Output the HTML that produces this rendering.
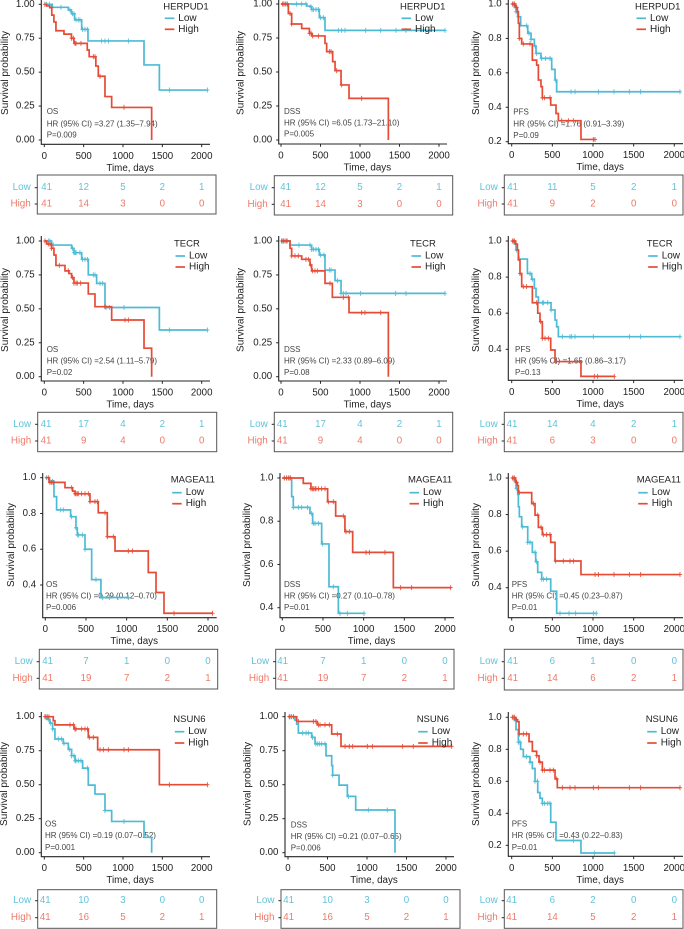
<!DOCTYPE html>
<html lang="en">
<head>
<meta charset="utf-8">
<title>Kaplan-Meier survival curves</title>
<style>
html,body{margin:0;padding:0;background:#fff;width:684px;height:929px;overflow:hidden}
svg{display:block;filter:blur(0.3px)}
text{font-family:"Liberation Sans",sans-serif}
</style>
</head>
<body>
<svg id="figure" xmlns="http://www.w3.org/2000/svg" width="684" height="929" viewBox="0 0 684 929"></svg>
<script>
// ---- Tick labels and shared labels ----
const xTickDays = [0, 500, 1000, 1500, 2000];
const yTicksFull = [0, 0.25, 0.5, 0.75, 1];
const yTicks2 = [0.2, 0.4, 0.6, 0.8, 1];
const yTicks4 = [0.4, 0.6, 0.8, 1];
const seriesNames = ['Low', 'High'];

// ---- Panel 1: HERPUD1 OS ----
const p01LowTimes = [0, 100, 305, 345, 385, 475, 555, 1267, 1462];
const p01LowSurv = [1, 0.978, 0.958, 0.93, 0.885, 0.815, 0.73, 0.553, 0.368];
const p01LowCensor = [30, 64, 212, 326, 360, 377, 403, 432, 453, 487, 517, 547, 729, 771, 814, 1068, 1589, 2072];
const p01HighTimes = [0, 30, 70, 95, 122, 148, 250, 345, 377, 546, 570, 655, 686, 771, 856, 1364];
const p01HighSurv = [1, 0.988, 0.975, 0.92, 0.87, 0.805, 0.78, 0.75, 0.712, 0.663, 0.614, 0.545, 0.47, 0.32, 0.24, 0];
const p01HighCensor = [8, 93, 347, 369, 390, 403, 466, 623, 644, 708, 1013];
const p01LowRisk = [41, 12, 5, 2, 1];
const p01HighRisk = [41, 14, 3, 0, 0];

// ---- Panel 2: HERPUD1 DSS ----
const p02LowTimes = [0, 325, 367, 388, 485, 557];
const p02LowSurv = [1, 0.985, 0.98, 0.96, 0.9, 0.806];
const p02LowCensor = [30, 63, 198, 262, 316, 380, 392, 409, 443, 473, 502, 536, 726, 768, 810, 1072, 1262, 1456, 1582, 2076];
const p02HighTimes = [0, 93, 135, 262, 359, 388, 557, 578, 654, 684, 760, 861, 1359];
const p02HighSurv = [1, 0.93, 0.853, 0.82, 0.785, 0.765, 0.71, 0.65, 0.576, 0.51, 0.405, 0.306, 0];
const p02HighCensor = [21, 51, 80, 114, 135, 359, 380, 401, 473, 612, 633, 705, 768, 1021];
const p02LowRisk = [41, 12, 5, 2, 1];
const p02HighRisk = [41, 14, 3, 0, 0];

// ---- Panel 3: HERPUD1 PFS ----
const p03LowTimes = [0, 33, 53, 74, 110, 197, 238, 279, 299, 360, 492, 533, 553];
const p03LowSurv = [1, 0.98, 0.955, 0.926, 0.874, 0.83, 0.795, 0.756, 0.713, 0.684, 0.62, 0.558, 0.49];
const p03LowCensor = [20, 53, 82, 184, 213, 238, 287, 307, 369, 418, 471, 541, 730, 779, 1066, 1258, 1447, 1586, 2070];
const p03HighTimes = [0, 49, 70, 82, 94, 123, 254, 307, 328, 360, 377, 480, 545, 574, 852];
const p03HighSurv = [1, 0.98, 0.955, 0.888, 0.8, 0.768, 0.674, 0.645, 0.558, 0.52, 0.455, 0.413, 0.364, 0.322, 0.213];
const p03HighCensor = [8, 33, 61, 94, 143, 225, 377, 402, 471, 615, 697, 758, 1004, 1025];
const p03LowRisk = [41, 11, 5, 2, 1];
const p03HighRisk = [41, 9, 2, 0, 0];

// ---- Panel 4: TECR OS ----
const p04LowTimes = [0, 93, 347, 377, 475, 559, 665, 771, 1462];
const p04LowSurv = [1, 0.97, 0.946, 0.914, 0.865, 0.75, 0.688, 0.51, 0.344];
const p04LowCensor = [51, 72, 93, 114, 360, 377, 390, 403, 453, 487, 517, 547, 623, 644, 708, 742, 784, 826, 1013, 1589, 2072];
const p04HighTimes = [0, 30, 93, 123, 148, 263, 314, 347, 377, 559, 644, 856, 1267, 1364];
const p04HighSurv = [1, 0.978, 0.946, 0.897, 0.82, 0.78, 0.76, 0.73, 0.69, 0.61, 0.516, 0.418, 0.21, 0];
const p04HighCensor = [8, 51, 72, 93, 191, 305, 360, 377, 403, 419, 462, 771, 1025, 1068];
const p04LowRisk = [41, 17, 4, 2, 1];
const p04HighRisk = [41, 9, 4, 0, 0];

// ---- Panel 5: TECR DSS ----
const p05LowTimes = [0, 114, 388, 485, 557, 684, 760];
const p05LowSurv = [1, 0.97, 0.938, 0.897, 0.786, 0.708, 0.614];
const p05LowCensor = [21, 51, 80, 228, 367, 388, 409, 443, 473, 502, 544, 612, 633, 713, 760, 789, 823, 1008, 1451, 1582, 2076];
const p05HighTimes = [0, 114, 135, 262, 367, 388, 557, 650, 861, 1359];
const p05HighSurv = [1, 0.946, 0.89, 0.865, 0.823, 0.78, 0.688, 0.585, 0.472, 0];
const p05HighCensor = [8, 30, 51, 72, 135, 177, 219, 316, 346, 376, 401, 430, 460, 620, 789, 852, 1021, 1063, 1262];
const p05LowRisk = [41, 17, 4, 2, 1];
const p05HighRisk = [41, 9, 4, 0, 0];

// ---- Panel 6: TECR PFS ----
const p06LowTimes = [0, 33, 53, 82, 193, 246, 279, 299, 328, 484, 533, 553, 574];
const p06LowSurv = [1, 0.983, 0.95, 0.9, 0.82, 0.788, 0.738, 0.69, 0.658, 0.618, 0.562, 0.525, 0.47];
const p06LowCensor = [20, 61, 94, 225, 254, 377, 393, 443, 484, 623, 717, 738, 779, 1004, 1447, 1586, 2070];
const p06HighTimes = [0, 49, 70, 82, 102, 123, 254, 320, 348, 377, 480, 533, 852];
const p06HighSurv = [1, 0.983, 0.95, 0.895, 0.82, 0.747, 0.658, 0.6, 0.553, 0.461, 0.396, 0.332, 0.25];
const p06HighCensor = [8, 33, 102, 143, 184, 307, 357, 377, 410, 451, 541, 1016, 1057, 1262];
const p06LowRisk = [41, 14, 4, 2, 1];
const p06HighRisk = [41, 6, 3, 0, 0];

// ---- Panel 7: MAGEA11 OS ----
const p07LowTimes = [0, 49, 107, 139, 311, 377, 393, 488, 570, 684];
const p07LowSurv = [1, 0.98, 0.894, 0.82, 0.782, 0.72, 0.68, 0.6, 0.43, 0.33];
const p07LowCensor = [16, 57, 90, 189, 221, 324, 377, 393, 410, 459, 488, 623, 705, 787, 1020];
const p07HighTimes = [0, 49, 242, 336, 365, 549, 651, 762, 857, 1266, 1361, 1459];
const p07HighSurv = [1, 0.974, 0.944, 0.925, 0.91, 0.866, 0.804, 0.67, 0.59, 0.47, 0.358, 0.242];
const p07HighCensor = [37, 57, 78, 98, 324, 365, 377, 393, 406, 447, 488, 529, 549, 611, 639, 734, 762, 836, 1020, 1070, 1582, 2057];
const p07LowRisk = [41, 7, 1, 0, 0];
const p07HighRisk = [41, 19, 7, 2, 1];

// ---- Panel 8: MAGEA11 DSS ----
const p08LowTimes = [0, 115, 135, 340, 373, 484, 574, 689];
const p08LowSurv = [1, 0.914, 0.864, 0.836, 0.79, 0.695, 0.497, 0.374];
const p08LowCensor = [25, 53, 86, 135, 197, 238, 311, 361, 381, 402, 443, 496, 627, 709, 799, 1004];
const p08HighTimes = [0, 258, 352, 557, 656, 770, 865, 1365];
const p08HighSurv = [1, 0.975, 0.95, 0.89, 0.824, 0.752, 0.656, 0.493];
const p08HighCensor = [25, 53, 74, 102, 352, 369, 381, 402, 414, 443, 484, 525, 566, 627, 750, 783, 824, 1029, 1070, 1262, 1455, 1590, 2070];
const p08LowRisk = [41, 7, 1, 0, 0];
const p08HighRisk = [41, 19, 7, 2, 1];

// ---- Panel 9: MAGEA11 PFS ----
const p09LowTimes = [0, 33, 53, 74, 82, 94, 123, 197, 254, 295, 320, 369, 480, 553];
const p09LowSurv = [1, 0.98, 0.943, 0.91, 0.843, 0.788, 0.733, 0.648, 0.593, 0.542, 0.484, 0.447, 0.381, 0.26];
const p09LowCensor = [20, 61, 135, 197, 225, 287, 307, 369, 389, 430, 594, 705, 787, 1004, 1040];
const p09HighTimes = [0, 49, 70, 82, 246, 287, 328, 377, 480, 533, 852];
const p09HighSurv = [1, 0.976, 0.958, 0.92, 0.86, 0.797, 0.73, 0.69, 0.648, 0.546, 0.472];
const p09HighCensor = [8, 33, 61, 94, 266, 320, 361, 389, 430, 471, 541, 635, 717, 758, 1025, 1066, 1258, 1447, 1586, 2070];
const p09LowRisk = [41, 6, 1, 0, 0];
const p09HighRisk = [41, 14, 6, 2, 1];

// ---- Panel 10: NSUN6 OS ----
const p10LowTimes = [0, 30, 72, 106, 135, 241, 305, 347, 390, 487, 559, 644, 771, 856, 1267, 1364];
const p10LowSurv = [1, 0.98, 0.953, 0.91, 0.836, 0.804, 0.76, 0.713, 0.676, 0.622, 0.497, 0.431, 0.31, 0.23, 0.113, 0];
const p10LowCensor = [21, 51, 81, 106, 178, 220, 250, 318, 347, 377, 390, 403, 432, 466, 547, 771, 1013];
const p10HighTimes = [0, 114, 135, 377, 559, 678, 1462];
const p10HighSurv = [1, 0.97, 0.94, 0.91, 0.848, 0.757, 0.5];
const p10HighCensor = [8, 38, 59, 326, 369, 390, 403, 475, 517, 547, 572, 623, 708, 750, 814, 1013, 1068, 1589, 2072];
const p10LowRisk = [41, 10, 3, 0, 0];
const p10HighRisk = [41, 16, 5, 2, 1];

// ---- Panel 11: NSUN6 DSS ----
const p11LowTimes = [0, 88, 110, 131, 300, 342, 481, 553, 565, 646, 751, 857, 1354];
const p11LowSurv = [1, 0.975, 0.945, 0.88, 0.848, 0.8, 0.713, 0.64, 0.57, 0.497, 0.414, 0.314, 0];
const p11LowCensor = [17, 38, 68, 186, 228, 257, 312, 354, 376, 397, 426, 468, 565, 764, 1017, 1257];
const p11HighTimes = [0, 110, 371, 553, 671];
const p11HighSurv = [1, 0.965, 0.94, 0.873, 0.782];
const p11HighCensor = [17, 42, 68, 131, 321, 354, 384, 405, 468, 523, 624, 722, 776, 819, 1004, 1068, 1451, 1586, 2072];
const p11LowRisk = [41, 10, 3, 0, 0];
const p11HighRisk = [41, 16, 5, 2, 1];

// ---- Panel 12: NSUN6 PFS ----
const p12LowTimes = [0, 33, 53, 82, 110, 143, 225, 254, 287, 320, 348, 377, 480, 545, 852];
const p12LowSurv = [1, 0.98, 0.923, 0.844, 0.8, 0.754, 0.72, 0.68, 0.6, 0.53, 0.494, 0.462, 0.344, 0.23, 0.152];
const p12LowCensor = [20, 82, 102, 184, 225, 287, 316, 377, 402, 443, 471, 758, 1016, 1262];
const p12HighTimes = [0, 49, 70, 90, 213, 254, 307, 336, 377, 533, 561];
const p12HighSurv = [1, 0.985, 0.973, 0.896, 0.848, 0.788, 0.76, 0.72, 0.67, 0.615, 0.56];
const p12HighCensor = [8, 33, 61, 94, 143, 184, 307, 348, 377, 402, 471, 512, 553, 623, 717, 779, 1004, 1066, 1447, 1586, 2070];
const p12LowRisk = [41, 6, 2, 0, 0];
const p12HighRisk = [41, 14, 5, 2, 1];

// ---- Panel text ----
const geneLabels = ['HERPUD1','HERPUD1','HERPUD1','TECR','TECR','TECR','MAGEA11','MAGEA11','MAGEA11','NSUN6','NSUN6','NSUN6'];
const endpointLabels = ['OS','DSS','PFS','OS','DSS','PFS','OS','DSS','PFS','OS','DSS','PFS'];
const hrLabels = ['3.27 (1.35–7.94)','6.05 (1.73–21.10)','1.76 (0.91–3.39)','2.54 (1.11–5.79)','2.33 (0.89–6.09)','1.65 (0.86–3.17)','0.29 (0.12–0.70)','0.27 (0.10–0.78)','0.45 (0.23–0.87)','0.19 (0.07–0.52)','0.21 (0.07–0.65)','0.43 (0.22–0.83)'];
const pLabels = ['0.009','0.005','0.09','0.02','0.08','0.13','0.006','0.01','0.01','0.001','0.006','0.01'];

const lowTimes = [p01LowTimes,p02LowTimes,p03LowTimes,p04LowTimes,p05LowTimes,p06LowTimes,p07LowTimes,p08LowTimes,p09LowTimes,p10LowTimes,p11LowTimes,p12LowTimes];
const lowSurv = [p01LowSurv,p02LowSurv,p03LowSurv,p04LowSurv,p05LowSurv,p06LowSurv,p07LowSurv,p08LowSurv,p09LowSurv,p10LowSurv,p11LowSurv,p12LowSurv];
const lowCensor = [p01LowCensor,p02LowCensor,p03LowCensor,p04LowCensor,p05LowCensor,p06LowCensor,p07LowCensor,p08LowCensor,p09LowCensor,p10LowCensor,p11LowCensor,p12LowCensor];
const highTimes = [p01HighTimes,p02HighTimes,p03HighTimes,p04HighTimes,p05HighTimes,p06HighTimes,p07HighTimes,p08HighTimes,p09HighTimes,p10HighTimes,p11HighTimes,p12HighTimes];
const highSurv = [p01HighSurv,p02HighSurv,p03HighSurv,p04HighSurv,p05HighSurv,p06HighSurv,p07HighSurv,p08HighSurv,p09HighSurv,p10HighSurv,p11HighSurv,p12HighSurv];
const highCensor = [p01HighCensor,p02HighCensor,p03HighCensor,p04HighCensor,p05HighCensor,p06HighCensor,p07HighCensor,p08HighCensor,p09HighCensor,p10HighCensor,p11HighCensor,p12HighCensor];
const lowRisk = [p01LowRisk,p02LowRisk,p03LowRisk,p04LowRisk,p05LowRisk,p06LowRisk,p07LowRisk,p08LowRisk,p09LowRisk,p10LowRisk,p11LowRisk,p12LowRisk];
const highRisk = [p01HighRisk,p02HighRisk,p03HighRisk,p04HighRisk,p05HighRisk,p06HighRisk,p07HighRisk,p08HighRisk,p09HighRisk,p10HighRisk,p11HighRisk,p12HighRisk];
const panelYTicks = [yTicksFull,yTicksFull,yTicks2,yTicksFull,yTicksFull,yTicks4,yTicks4,yTicks4,yTicks4,yTicksFull,yTicksFull,yTicks2];

// ---- Layout (pixel geometry, separate from data) ----
function geom(ax,x0,x2,xe,v1,p1,v2,p2,ay,top,bl,br,bt,bb,rl,rh,fc,lx,ly,l1,l2,tx,ty,nx,n0,n1,n2){
  return {ax,x0,x2,xe,v1,p1,v2,p2,ay,top,bl,br,bt,bb,rl,rh,fc,lx,ly,l1,l2,tx,ty,nx,n0,n1,n2};
}
const layouts = [
 geom(41.3,44.3,201.7,210,0,140,1,4.3,144.3,0,37.3,216,175,214,187.7,204,46.7,163.3,7,18.3,29.3,5.5,73,46.7,111.7,124,135),
 geom(278.7,281,439,447,0,140,1,4,144,0,274.3,452.7,175.7,215,187.7,204.3,285.7,400,7,18.3,29.3,241,73,284,111.7,123,134),
 geom(508.3,511.7,674.3,683,0.2,141.7,1,4,143.7,0,504.3,683,175,215,187.7,204,512.7,635,7,18.3,29.3,476.7,73,513.3,112,124,135.5),
 geom(41.3,44.3,201.7,210,0,376.7,1,241,381,236,37.7,216.7,412.3,451.7,424.3,441,46,174,244,256,267,5.5,310,46.7,349.3,361,372.3),
 geom(278.7,281,439,447,0,376.7,1,241,381,236,274.3,452.7,412.3,451.7,424.3,441,282.3,410,244,256,267,241,310,284,349.3,361,372.3),
 geom(508.3,511.7,674.3,683,0.4,349.3,1,241,380.3,236,504.3,683,412.3,451.7,424.3,441,512,646.7,244,256,267,476.7,310,515,349.3,361,372.3),
 geom(42.7,45.3,208,216.7,0.4,585,1,477.7,617.7,473,39.3,217.7,649.3,689,661.7,678.3,47.7,170.7,480,492.7,503.7,11.7,545,46,584.3,596,607.3),
 geom(280,282.3,445,454,0.4,607.7,1,478,617.7,473,275.7,454,649.3,689,661.7,678.3,282.7,408,480,492.7,503.7,247.7,545,284,584.3,596,607.3),
 geom(508.3,511.7,674.3,683,0.4,587.7,1,478,617.7,473,504.3,683,649.3,690,661.7,678.3,512.7,636.7,480,492.7,503.7,476.7,545,511.7,584.3,596,607.3),
 geom(41.3,44.3,201.7,210,0,852.7,1,716.7,856.7,712,37.7,216.7,889.7,928.3,900.7,917.7,45.3,173.3,719.7,731.7,743,4.5,784,45,824,835.7,847.3),
 geom(285,288,446,454,0,852.7,1,716.7,856.7,712,281,460,889.7,928.3,900.7,917.7,288.7,416.7,719.7,731.7,743,248,784,290.7,825,836.7,848),
 geom(508.3,511.7,674.3,683,0.2,845.3,1,717.3,856.3,712,504.3,683,889.7,928.3,900.7,917.7,511.7,645.7,719.7,731.7,743,476.7,784,511.7,824,835.7,847.3)
];

const LOW_COLOR = '#4dbbd5';
const HIGH_COLOR = '#e64b35';
const LOW_TEXT = '#62c3da';
const HIGH_TEXT = '#ee7a69';
const AXIS = '#262626';
const SVGNS = 'http://www.w3.org/2000/svg';
const figure = document.getElementById('figure');

function mk(parent, tag, attrs, content){
  const node = document.createElementNS(SVGNS, tag);
  for (const key in attrs) node.setAttribute(key, attrs[key]);
  if (content !== undefined) node.textContent = content;
  parent.appendChild(node);
  return node;
}

function survivalAt(times, surv, t){
  let value = surv[0];
  for (let i = 0; i < times.length; i++) { if (times[i] <= t) value = surv[i]; }
  return value;
}

function drawSeries(group, times, surv, censor, color, xScale, yScale, seriesKey){
  const lastTime = Math.max(times[times.length - 1], censor[censor.length - 1]);
  let d = 'M' + xScale(times[0]).toFixed(2) + ' ' + yScale(surv[0]).toFixed(2);
  for (let i = 1; i < times.length; i++) {
    d += 'H' + xScale(times[i]).toFixed(2) + 'V' + yScale(surv[i]).toFixed(2);
  }
  d += 'H' + xScale(lastTime).toFixed(2);
  const curve = mk(group, 'path', {d: d, fill: 'none', stroke: color, 'stroke-width': 1.7, 'stroke-linejoin': 'miter'});
  
  
  censor.forEach(function(t){
    const cx = xScale(t), cy = yScale(survivalAt(times, surv, t));
    const mark = mk(group, 'path', {d: 'M' + (cx - 2).toFixed(2) + ' ' + cy.toFixed(2) + 'h4M' + cx.toFixed(2) + ' ' + (cy - 2.5).toFixed(2) + 'v5', fill: 'none', stroke: color, 'stroke-width': 0.85});
    
    
  });
}

function drawPanel(i){
  const g = layouts[i];
  const key = geneLabels[i].toLowerCase() + '-' + endpointLabels[i].toLowerCase();
  const xScale = function(t){ return g.x0 + (g.x2 - g.x0) * t / 2000; };
  const yScale = function(v){ return g.p1 + (g.p2 - g.p1) * (v - g.v1) / (g.v2 - g.v1); };
  const panel = mk(figure, 'g', {});
  
  

  const yTitle = mk(panel, 'text', {x: g.tx, y: g.ty, 'font-size': 10, fill: '#222', 'text-anchor': 'middle', 'dominant-baseline': 'central', transform: 'rotate(-90 ' + g.tx + ' ' + g.ty + ')'}, 'Survival probability');
  
  

  const xTitle = mk(panel, 'text', {x: (g.ax + g.xe) / 2 + 4.5, y: g.ay + 24, 'font-size': 9.8, fill: '#222', 'text-anchor': 'middle', 'dominant-baseline': 'central'}, 'Time, days');
  
  

  const axes = mk(panel, 'path', {d: 'M' + g.ax + ' ' + g.top + 'V' + g.ay + 'H' + g.xe, fill: 'none', stroke: AXIS, 'stroke-width': 1.1});
  
  

  panelYTicks[i].forEach(function(v){
    const py = yScale(v);
    const tick = mk(panel, 'line', {x1: g.ax - 2.6, x2: g.ax, y1: py, y2: py, stroke: AXIS, 'stroke-width': 1});
    
    
    const digits = panelYTicks[i] === yTicksFull ? 2 : 1;
    const label = mk(panel, 'text', {x: g.ax - 6.6, y: py, 'font-size': 9.7, fill: '#222', 'text-anchor': 'end', 'dominant-baseline': 'central'}, v.toFixed(digits));
    
    
  });

  xTickDays.forEach(function(t){
    const px = xScale(t);
    const tick = mk(panel, 'line', {x1: px, x2: px, y1: g.ay, y2: g.ay + 2.8, stroke: AXIS, 'stroke-width': 1});
    
    
    const label = mk(panel, 'text', {x: px, y: g.ay + 12, 'font-size': 9.7, fill: '#222', 'text-anchor': 'middle', 'dominant-baseline': 'central'}, String(t));
    
    
  });

  const annEndpoint = mk(panel, 'text', {x: g.nx, y: g.n0, 'font-size': 8, fill: '#444', 'dominant-baseline': 'central'}, endpointLabels[i]);
  
  
  const annHr = mk(panel, 'text', {x: g.nx, y: g.n1, 'font-size': 8, fill: '#444', 'dominant-baseline': 'central'}, 'HR (95% CI) =' + hrLabels[i]);
  
  
  const annP = mk(panel, 'text', {x: g.nx, y: g.n2, 'font-size': 8, fill: '#444', 'dominant-baseline': 'central'}, 'P=' + pLabels[i]);
  
  

  drawSeries(panel, lowTimes[i], lowSurv[i], lowCensor[i], LOW_COLOR, xScale, yScale, 'low');
  drawSeries(panel, highTimes[i], highSurv[i], highCensor[i], HIGH_COLOR, xScale, yScale, 'high');

  const legendTitle = mk(panel, 'text', {x: g.lx, y: g.ly, 'font-size': 9.5, fill: '#222', 'dominant-baseline': 'central'}, geneLabels[i]);
  
  
  [g.l1, g.l2].forEach(function(ly, s){
    const color = s === 0 ? LOW_COLOR : HIGH_COLOR;
    const swatch = mk(panel, 'line', {x1: g.lx + 1.5, x2: g.lx + 11, y1: ly, y2: ly, stroke: color, 'stroke-width': 1.7});
    
    
    const entry = mk(panel, 'text', {x: g.lx + 15, y: ly, 'font-size': 10, fill: '#222', 'dominant-baseline': 'central'}, seriesNames[s]);
    
    
  });

  const box = mk(panel, 'rect', {x: g.bl, y: g.bt, width: g.br - g.bl, height: g.bb - g.bt, fill: 'none', stroke: '#555', 'stroke-width': 1});
  
  
  [[g.rl, lowRisk[i], LOW_TEXT], [g.rh, highRisk[i], HIGH_TEXT]].forEach(function(row, s){
    const rowTick = mk(panel, 'line', {x1: g.bl - 2.6, x2: g.bl, y1: row[0], y2: row[0], stroke: AXIS, 'stroke-width': 1});
    
    
    const rowLabel = mk(panel, 'text', {x: g.bl - 6.5, y: row[0], 'font-size': 9.9, fill: row[2], 'text-anchor': 'end', 'dominant-baseline': 'central'}, seriesNames[s]);
    
    
    row[1].forEach(function(n, c){
      const cx = c === 0 ? g.fc : xScale(xTickDays[c]);
      const count = mk(panel, 'text', {x: cx, y: row[0], 'font-size': 9.7, fill: row[2], 'text-anchor': 'middle', 'dominant-baseline': 'central'}, String(n));
      
      
    });
  });
}

for (let i = 0; i < layouts.length; i++) drawPanel(i);
</script>
</body>
</html>
